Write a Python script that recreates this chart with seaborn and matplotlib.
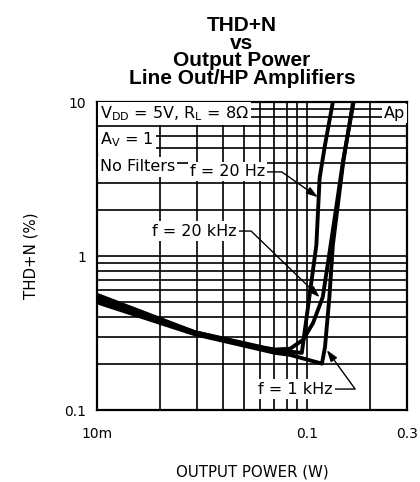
import matplotlib
matplotlib.use("Agg")
import matplotlib.pyplot as plt
import seaborn as sns
import pandas as pd
import numpy as np
from matplotlib.ticker import LogLocator, FixedLocator, NullFormatter

# ---- data ----
p_20hz = [0.01, 0.0293, 0.0705, 0.0946, 0.111, 0.115, 0.122, 0.133]
thd_20hz = [0.53, 0.32, 0.245, 0.235, 1.18, 3.2, 5.25, 10.0]

p_20khz = [0.01, 0.0293, 0.06, 0.0705, 0.0832, 0.0958, 0.107, 0.119, 0.126, 0.133, 0.149, 0.167]
thd_20khz = [0.56, 0.32, 0.255, 0.247, 0.25, 0.285, 0.367, 0.54, 0.90, 1.47, 4.2, 10.0]

p_1khz = [0.01, 0.0293, 0.0705, 0.0832, 0.118, 0.122, 0.128, 0.133, 0.149, 0.166]
thd_1khz = [0.50, 0.31, 0.235, 0.228, 0.20, 0.256, 0.54, 1.18, 4.08, 10.0]

x_ticks = [0.01, 0.1, 0.3]
x_ticklabels = ["10m", "0.1", "0.3"]
y_ticks = [0.1, 1, 10]
y_ticklabels = ["0.1", "1", "10"]

df = pd.concat([
    pd.DataFrame({"P": p_20hz, "THD": thd_20hz, "f": "20 Hz"}),
    pd.DataFrame({"P": p_20khz, "THD": thd_20khz, "f": "20 kHz"}),
    pd.DataFrame({"P": p_1khz, "THD": thd_1khz, "f": "1 kHz"}),
])

sns.set_style("white")
plt.rcParams["font.family"] = ["DejaVu Sans"]
plt.rcParams["text.color"] = "black"
plt.rcParams["axes.labelcolor"] = "black"
plt.rcParams["xtick.color"] = "black"
plt.rcParams["ytick.color"] = "black"

fig = plt.figure(figsize=(4.2, 4.82), dpi=100)
ax = fig.add_axes([97 / 420, 1 - 410 / 482, 310 / 420, 308 / 482])

ax.set_xscale("log")
ax.set_yscale("log")
ax.set_xlim(0.01, 0.3)
ax.set_ylim(0.1, 10)

# grid
ax.xaxis.set_minor_locator(FixedLocator([0.02, 0.03, 0.04, 0.05, 0.06, 0.07, 0.08, 0.09, 0.2]))
ax.yaxis.set_minor_locator(LogLocator(base=10, subs=np.arange(2, 10)))
ax.xaxis.set_minor_formatter(NullFormatter())
ax.yaxis.set_minor_formatter(NullFormatter())
ax.grid(True, which="both", color="black", linewidth=1.2)
ax.set_axisbelow(True)

sns.lineplot(data=df, x="P", y="THD", units="f", estimator=None, sort=False,
             color="black", linewidth=2.8, ax=ax, legend=False, zorder=3)

ax.set_xticks(x_ticks)
ax.set_xticklabels(x_ticklabels)
ax.set_yticks(y_ticks)
ax.set_yticklabels(y_ticklabels)
ax.tick_params(axis="both", which="both", length=0, labelsize=10, colors="black")
ax.tick_params(axis="x", pad=12)
ax.tick_params(axis="y", pad=8)

for s in ax.spines.values():
    s.set_color("black")
    s.set_linewidth(1.6)

ax.set_xlabel("OUTPUT POWER (W)", fontsize=10.8, labelpad=17, color="black")
ax.set_ylabel("THD+N (%)", fontsize=10.8, labelpad=18, color="black")

fig.text(242 / 420, 1 - 52 / 482, "THD+N\nvs\nOutput Power\nLine Out/HP Amplifiers",
         ha="center", va="center", fontsize=15, fontweight="bold", color="black",
         family="Liberation Sans", linespacing=0.9)

fs = 11.5
box = dict(facecolor="white", edgecolor="none", pad=1.5)
ax.text(0.01, 0.962, r"V$_{\rm DD}$ = 5V, R$_{\rm L}$ = 8$\Omega$", transform=ax.transAxes,
        ha="left", va="center", fontsize=fs, bbox=box, zorder=5)
ax.text(0.01, 0.877, r"A$_{\rm V}$ = 1", transform=ax.transAxes,
        ha="left", va="center", fontsize=fs, bbox=box, zorder=5)
ax.text(0.01, 0.789, "No Filters", transform=ax.transAxes,
        ha="left", va="center", fontsize=fs, bbox=box, zorder=5)
ax.text(0.994, 0.962, "Ap", transform=ax.transAxes,
        ha="right", va="center", fontsize=fs, bbox=box, zorder=5)

arrow = dict(arrowstyle="-|>,head_length=0.6,head_width=0.2", color="black", lw=1.0,
             relpos=(1, 0.5), shrinkA=0, shrinkB=0)
ax.annotate("f = 20 Hz", xy=(0.1128, 2.41), xycoords="data",
            xytext=(0.542, 0.773), textcoords="axes fraction", ha="right", va="center",
            fontsize=fs, bbox=box, zorder=6,
            arrowprops=dict(arrow, connectionstyle="angle,angleA=0,angleB=-35,rad=0"))
ax.annotate("f = 20 kHz", xy=(0.115, 0.54), xycoords="data",
            xytext=(0.452, 0.581), textcoords="axes fraction", ha="right", va="center",
            fontsize=fs, bbox=box, zorder=6,
            arrowprops=dict(arrow, connectionstyle="angle,angleA=0,angleB=-44,rad=0"))
ax.annotate("f = 1 kHz", xy=(0.1245, 0.245), xycoords="data",
            xytext=(0.761, 0.068), textcoords="axes fraction", ha="right", va="center",
            fontsize=fs, bbox=box, zorder=6,
            arrowprops=dict(arrow, connectionstyle="angle,angleA=0,angleB=126,rad=0"))

fig.savefig("out.png", dpi=100)
